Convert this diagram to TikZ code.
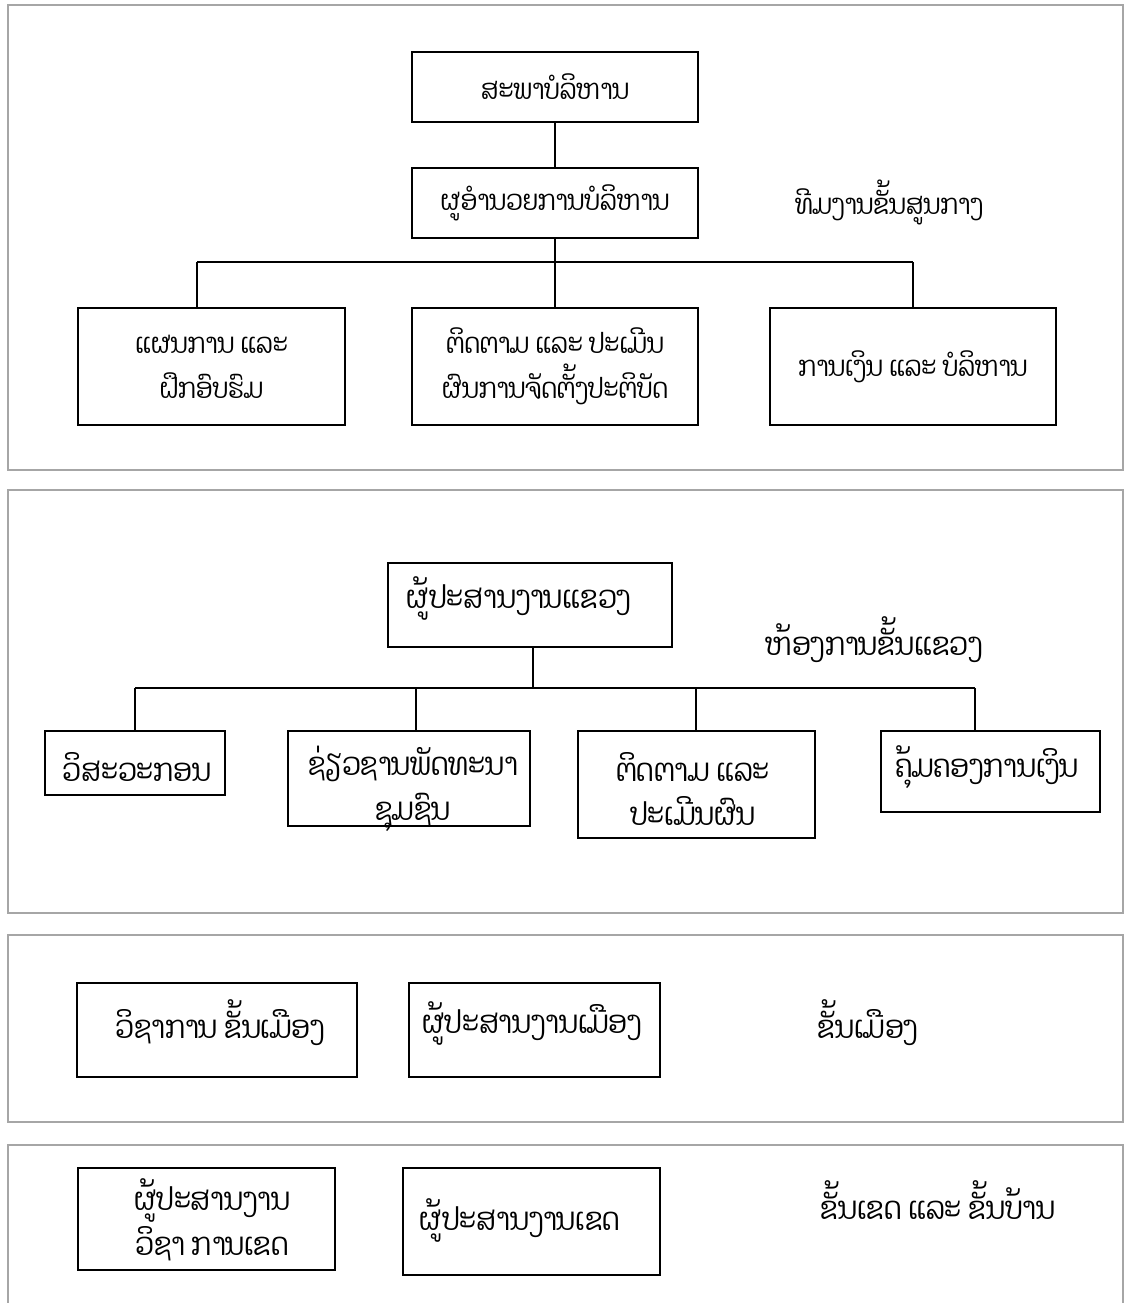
\documentclass[tikz,border=0pt]{standalone}
\usepackage{fontspec}
\newfontfamily\laofont[Script=Lao,FakeStretch=0.86]{Dhyana}
\usetikzlibrary{positioning}

\tikzset{
  box/.style={draw, line width=1.1pt, inner sep=0pt, align=center,
    font=\laofont\fontsize{16}{25.5}\selectfont},
  txt/.style={inner sep=0pt, align=center,
    font=\laofont\fontsize{16}{25.5}\selectfont},
  big/.style={font=\laofont\fontsize{18}{25.5}\selectfont},
  panel/.style={draw=gray!70, line width=1.1pt},
  link/.style={line width=1.1pt}
}

\begin{document}
\begin{tikzpicture}[x=0.02cm, y=-0.02cm]
\clip (0,0) rectangle (1125,1303);
\fill[white] (0,0) rectangle (1125,1303);

% Panels
\draw[panel] (8,5) rectangle (1123,470);
\draw[panel] (8,490) rectangle (1123,913);
\draw[panel] (8,935) rectangle (1123,1122);
\draw[panel] (8,1145) rectangle (1123,1340);

% Central team
\node[box, minimum width=5.72cm, minimum height=1.40cm] (board) at (555,87) {ສະພາບໍລິຫານ};
\node[box, minimum width=5.72cm, minimum height=1.40cm] (dir) at (555,203) {ຜູອຳນວຍການບໍລິຫານ};
\node[txt] (central) at (889,202) {ທີມງານຂັ້ນສູນກາງ};

\node[box, minimum width=5.34cm, minimum height=2.34cm] (plan) at (211.5,366.5) {ແຜນການ ແລະ\\ຝຶກອົບຮົມ};
\node[box, minimum width=5.72cm, minimum height=2.34cm] (mon) at (555,366.5) {ຕິດຕາມ ແລະ ປະເມີນ\\ຜົນການຈັດຕັ້ງປະຕິບັດ};
\node[box, minimum width=5.72cm, minimum height=2.34cm] (fin) at (913,366.5) {ການເງິນ ແລະ ບໍລິຫານ};

\draw[link] (board) -- (dir);
\coordinate (c1) at (555,262);
\coordinate (c1l) at (197,262);
\coordinate (c1r) at (913,262);
\draw[link] (dir) -- (c1);
\draw[link] (c1l) -- (c1r);
\draw[link] (c1l) -- (c1l |- plan.north);
\draw[link] (c1) -- (mon);
\draw[link] (c1r) -- (fin);

% Province office
\node[box, minimum width=5.68cm, minimum height=1.68cm] (prov) at (530,605) {};
\node[txt, big] (prov-t) at (519,598) {ຜູ້ປະສານງານແຂວງ};
\node[txt, big] (office) at (874,640) {ຫ້ອງການຂັ້ນແຂວງ};

\node[box, minimum width=3.60cm, minimum height=1.28cm] (eng) at (135,763) {};
\node[txt, big] (eng-t) at (137,767) {ວິສະວະກອນ};
\node[box, minimum width=4.84cm, minimum height=1.90cm] (comm) at (409,778.5) {};
\node[txt, big] (comm-t) at (413,789) {ຊ່ຽວຊານພັດທະນາ\\ຊຸມຊົນ};
\node[box, minimum width=4.74cm, minimum height=2.14cm] (eval) at (696.5,784.5) {};
\node[txt, big] (eval-t) at (693,789) {ຕິດຕາມ ແລະ\\ປະເມີນຜົນ};
\node[box, minimum width=4.38cm, minimum height=1.62cm] (acct) at (990.5,771.5) {};
\node[txt, big] (acct-t) at (987,767) {ຄຸ້ມຄອງການເງິນ};

\coordinate (c2) at (533,688);
\coordinate (c2a) at (135,688);
\coordinate (c2b) at (416,688);
\coordinate (c2c) at (696,688);
\coordinate (c2d) at (975,688);
\draw[link] (prov.south -| c2) -- (c2);
\draw[link] (c2a) -- (c2d);
\draw[link] (c2a) -- (c2a |- eng.north);
\draw[link] (c2b) -- (c2b |- comm.north);
\draw[link] (c2c) -- (c2c |- eval.north);
\draw[link] (c2d) -- (c2d |- acct.north);

% District level
\node[box, minimum width=5.60cm, minimum height=1.88cm] (dtech) at (217,1030) {};
\node[txt, big] (dtech-t) at (220,1023) {ວິຊາການ ຂັ້ນເມືອງ};
\node[box, minimum width=5.02cm, minimum height=1.88cm] (dcoord) at (534.5,1030) {};
\node[txt, big] (dcoord-t) at (532,1023) {ຜູ້ປະສານງານເມືອງ};
\node[txt, big] (district) at (868,1023) {ຂັ້ນເມືອງ};

% Zone and village level
\node[box, minimum width=5.14cm, minimum height=2.04cm] (ztech) at (206.5,1219) {};
\node[txt, big] (ztech-t) at (212,1220) {ຜູ້ປະສານງານ\\ວິຊາ ການເຂດ};
\node[box, minimum width=5.14cm, minimum height=2.14cm] (zcoord) at (531.5,1221.5) {};
\node[txt, big] (zcoord-t) at (520,1220) {ຜູ້ປະສານງານເຂດ};
\node[txt, big] (zone) at (938,1200) {ຂັ້ນເຂດ ແລະ ຂັ້ນບ້ານ};

\end{tikzpicture}
\end{document}
